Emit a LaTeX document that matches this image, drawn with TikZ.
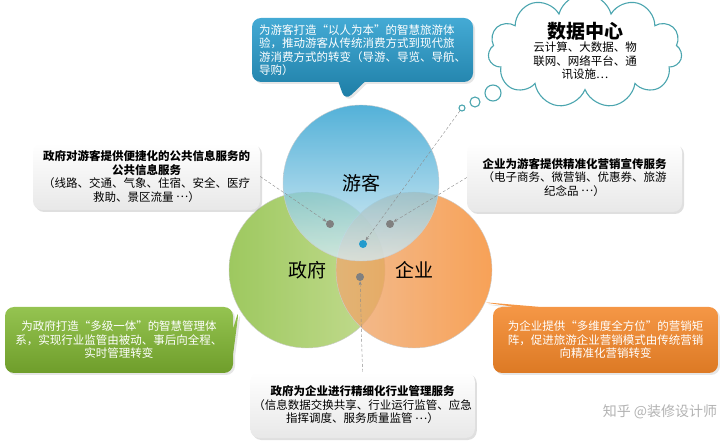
\documentclass[tikz,border=0pt]{standalone}
\usepackage{fontspec}
\setmainfont{Noto Sans CJK SC}
\usetikzlibrary{shapes.callouts,shapes.symbols,shadows,arrows.meta}

\definecolor{tourblue}{RGB}{35,155,205}
\definecolor{tourlight}{RGB}{215,236,244}
\definecolor{govgreen}{RGB}{130,185,50}
\definecolor{govlight}{RGB}{180,210,115}
\definecolor{entorange}{RGB}{245,135,40}
\definecolor{entlight}{RGB}{238,170,115}
\definecolor{cloudline}{RGB}{75,165,175}

% full width punctuation
\newcommand\lqz{\makebox[1em][r]{“}}
\newcommand\rqz{\makebox[1em][l]{”}}
\newcommand\dotz{\raisebox{.3em}{…}}

\begin{document}
\begin{tikzpicture}[x=1pt,y=-1pt,
    every node/.style={font=\fontsize{11.5}{13.5}\selectfont},
    circ/.style={circle,minimum size=156pt,draw=black!20,
        fill opacity=0.78,text opacity=1,font=\fontsize{19}{22}\selectfont},
    infobox/.style={rounded corners=9pt,top color=white,bottom color=black!9,
        drop shadow={opacity=0.25,shadow xshift=2pt,shadow yshift=-2pt},
        align=center,inner sep=3pt},
    talk/.style={rectangle callout,rounded corners=9pt,text=white,
        callout pointer width=26pt,inner sep=3pt,
        drop shadow={opacity=0.2,shadow xshift=2pt,shadow yshift=-2pt}},
    dot/.style={circle,fill=black!50,inner sep=0pt,minimum size=8pt},
    bubble/.style={circle,draw=cloudline,line width=1.1pt,fill=white,inner sep=0pt},
    link/.style={densely dashed,black!45,thin,-{Stealth[length=4pt,width=3pt]}}]

\useasboundingbox (0,0) rectangle (720,443);

% Circles
\node[  circ,
        left color=govgreen,
        right color=govlight
    ] (gov) at (307,270) {政府};
\node[  circ,
        left color=entlight,
        right color=entorange
    ] (ent) at (414,270) {企业};
\node[  circ,
        top color=tourblue,
        bottom color=tourlight
    ] (tour) at (361,183) {游客};

% Dots
\node[dot] (dotTG) at (330,224) {};
\node[dot] (dotTE) at (390,224) {};
\node[dot,fill=tourblue] (dotAll) at (363,244) {};
\node[dot] (dotGE) at (360,277) {};

% Callouts
\node[  talk,
        top color=tourblue!85!white,
        bottom color=tourblue!80!black,
        minimum width=221pt,
        minimum height=64pt,
        align=left,
        callout absolute pointer={(345,101)}
    ] (tourtalk) at (362.5,50) {为游客打造\lqz 以人为本\rqz 的智慧旅游体\\
验，推动游客从传统消费方式到现代旅\\
游消费方式的转变（导游、导览、导航、\\
导购）};
\node[  talk,
        top color=govgreen!85!white,
        bottom color=govgreen!85!black,
        minimum width=228pt,
        minimum height=66pt,
        align=center,
        callout absolute pointer={(239,309)}
    ] (govtalk) at (119,340) {为政府打造\lqz 多级一体\rqz 的智慧管理体\\
系，实现行业监管由被动、事后向全程、\\
实时管理转变};
\node[  talk,
        top color=entorange!85!white,
        bottom color=entorange!90!black,
        minimum width=225pt,
        minimum height=66pt,
        align=center,
        callout absolute pointer={(481,302)}
    ] (enttalk) at (605.5,340) {为企业提供\lqz 多维度全方位\rqz 的营销矩\\
阵，促进旅游企业营销模式由传统营销\\
向精准化营销转变};

% Cloud and bubbles
\node[  cloud,
        cloud puffs=11,
        aspect=2,
        draw=cloudline,
        line width=1.1pt,
        fill=white,
        minimum width=194pt,
        minimum height=96pt,
        align=center,
        inner sep=0pt
    ] (data) at (585,51) {{\fontsize{19}{24}\selectfont\textbf{数据中心}}\\
云计算、大数据、物\\
联网、网络平台、通\\
讯设施…};
\node[bubble,minimum size=16pt] (bubble3) at (493,93) {};
\node[bubble,minimum size=10pt] (bubble2) at (475,102) {};
\node[bubble,minimum size=6pt] (bubble1) at (462,108) {};

% Service boxes
\node[  infobox,
        minimum width=227pt,
        minimum height=67pt
    ] (govinfo) at (146.5,176.5) {\textbf{政府对游客提供便捷化的公共信息服务的}\\
\textbf{公共信息服务}\\
（线路、交通、气象、住宿、安全、医疗\\
救助、景区流量 \dotz）};
\node[  infobox,
        minimum width=215pt,
        minimum height=69pt
    ] (entinfo) at (574.5,177.5) {\textbf{企业为游客提供精准化营销宣传服务}\\
（电子商务、微营销、优惠券、旅游\\
纪念品 \dotz）};
\node[  infobox,
        minimum width=215pt,
        minimum height=66pt
    ] (govmgmt) at (362.5,405) {\textbf{政府为企业进行精细化行业管理服务}\\
（信息数据交换共享、行业运行监管、应急\\
指挥调度、服务质量监管 \dotz）};

% Links
\draw[link] (govinfo.east) -- (dotTG);
\draw[link] (entinfo.west) -- (dotTE);
\draw[link] (bubble1) -- (dotAll);
\draw[link] (govmgmt.north) -- (dotGE);

\node[text=black!30,font=\fontsize{14}{16}\selectfont] (mark) at (660,412) {知乎 @装修设计师};

\end{tikzpicture}
\end{document}
